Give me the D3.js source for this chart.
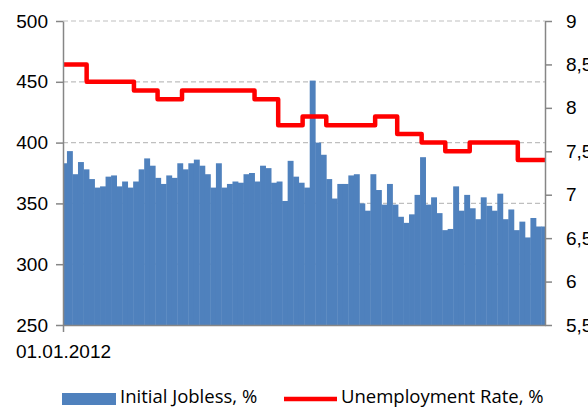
<!DOCTYPE html>
<html>
<head>
<meta charset="utf-8">
<script src="https://cdn.jsdelivr.net/npm/d3@7"></script>
<style>
  html, body { margin: 0; padding: 0; background: #fff; }
  svg { display: block; font-family: "Open Sans", "Liberation Sans", sans-serif; }
</style>
</head>
<body>
<div id="chart"></div>
<script>
// ---- Data ----
const claims = [
  383,393,374,384,378,370,363,364,372,373,
  364,368,363,368,378,387,381,371,366,373,
  371,383,378,383,386,381,374,363,383,363,
  366,368,367,374,375,368,381,379,367,368,
  352,385,372,367,363,451,400,390,370,354,
  366,366,373,374,350,344,374,361,349,366,
  349,339,334,341,357,388,349,355,342,328,
  329,364,344,357,346,337,355,348,344,358,
  337,345,328,335,322,338,331,331
];
const rates = [8.5,8.3,8.3,8.2,8.1,8.2,8.2,8.2,8.1,7.8,7.9,7.8,7.8,7.9,7.7,7.6,7.5,7.6,7.6,7.4];
const leftTicks = [250,300,350,400,450,500];
const rightTicks = [5.5,6,6.5,7,7.5,8,8.5,9];
const gridTicks = [300,350,400,450,500];
const xLabel = "01.01.2012";
const seriesNames = ["Initial Jobless, %", "Unemployment Rate, %"];

// weekly categories (week ending Saturdays) and monthly categories
const weekStart = new Date(Date.UTC(2011, 11, 31));
const weeks = d3.utcSaturday.range(weekStart, d3.utcSaturday.offset(weekStart, claims.length));
const months = d3.utcMonth.range(new Date(Date.UTC(2012, 0, 1)), new Date(Date.UTC(2013, 8, 1)));
const domainStart = new Date(Date.UTC(2012, 0, 2));
const domainEnd = new Date(Date.UTC(2013, 8, 4, 12));

// ---- Layout ----
const W = 588, H = 407;
const m = { left: 63, right: 43, top: 21, bottom: 82 };
const iw = W - m.left - m.right, ih = H - m.top - m.bottom;

const blue = "#4F81BD", red = "#FF0000", axisCol = "#868686", gridCol = "#BFBFBF";

const svg = d3.select("#chart").append("svg").attr("width", W).attr("height", H);
const g = svg.append("g").attr("transform", `translate(${m.left},${m.top})`);

const x = d3.scaleUtc().domain([domainStart, domainEnd]).range([0, iw]);
const yL = d3.scaleLinear().domain([250, 500]).range([ih, 0]);
const yR = d3.scaleLinear().domain([5.5, 9]).range([ih, 0]);

svg.append("defs").append("clipPath").attr("id", "clip")
  .append("rect").attr("x", 0).attr("y", -5).attr("width", iw).attr("height", ih + 5);

// gridlines
g.append("g").selectAll("line").data(gridTicks).join("line")
  .attr("x1", 0).attr("x2", iw)
  .attr("y1", d => yL(d)).attr("y2", d => yL(d))
  .attr("stroke", gridCol).attr("stroke-width", 1.2).attr("stroke-dasharray", "5,3");

const plot = g.append("g").attr("clip-path", "url(#clip)");

// bars
const barData = weeks.map((d, i) => ({ date: d, end: d3.utcDay.offset(d, 7), v: claims[i] }));
plot.append("g").selectAll("rect").data(barData).join("rect")
  .attr("x", d => x(d.date))
  .attr("width", d => x(d.end) - x(d.date) + 0.4)
  .attr("y", d => yL(d.v))
  .attr("height", d => yL(250) - yL(d.v))
  .attr("fill", blue);

// step line
const linePts = months.map((d, i) => ({ date: d, v: rates[i] }));
linePts.push({ date: domainEnd, v: rates[rates.length - 1] });
plot.append("path").datum(linePts)
  .attr("fill", "none").attr("stroke", red).attr("stroke-width", 4.5)
  .attr("stroke-linejoin", "round")
  .attr("d", d3.line().x(d => x(d.date)).y(d => yR(d.v)).curve(d3.curveStepAfter));

// axes
function styleAxis(sel) {
  sel.select(".domain").attr("stroke", axisCol).attr("stroke-width", 1.5);
  sel.selectAll(".tick line").attr("stroke", axisCol).attr("stroke-width", 1.5);
  sel.selectAll(".tick text").attr("fill", "#000").style("font-size", "19px");
}
const axL = g.append("g")
  .call(d3.axisLeft(yL).tickValues(leftTicks).tickSize(7).tickSizeOuter(0).tickPadding(8).tickFormat(d3.format("d")));
styleAxis(axL);
const axR = g.append("g").attr("transform", `translate(${iw},0)`)
  .call(d3.axisRight(yR).tickValues(rightTicks).tickSize(7).tickSizeOuter(0).tickPadding(14)
    .tickFormat(d => String(d).replace(".", ",")));
styleAxis(axR);

const axB = g.append("g").attr("transform", `translate(0,${ih})`)
  .call(d3.axisBottom(x).tickValues([domainStart]).tickSize(7).tickSizeOuter(0).tickPadding(13)
    .tickFormat(() => xLabel));
styleAxis(axB);

// legend
const lg = svg.append("g");
lg.append("rect").attr("x", 62).attr("y", 393).attr("width", 54).attr("height", 12).attr("fill", blue);
lg.append("text").attr("x", 120).attr("y", 403).text(seriesNames[0])
  .style("font-size", "18.5px").attr("fill", "#000");
lg.append("line").attr("x1", 284).attr("x2", 337).attr("y1", 399).attr("y2", 399)
  .attr("stroke", red).attr("stroke-width", 4.5);
lg.append("text").attr("x", 341).attr("y", 403).text(seriesNames[1])
  .style("font-size", "18.5px").attr("fill", "#000");
</script>
</body>
</html>
